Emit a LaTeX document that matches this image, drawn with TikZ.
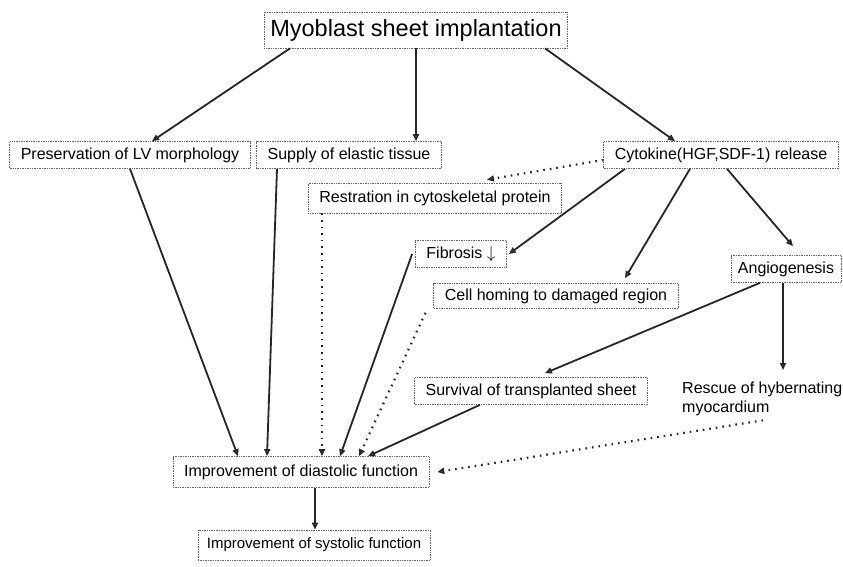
\documentclass[tikz,border=0pt]{standalone}
\usepackage{fontspec}
\setmainfont{Liberation Sans}
\usetikzlibrary{arrows.meta}

\begin{document}
\begin{tikzpicture}[x=1pt, y=-1pt,
    >={Triangle[open, length=7pt, width=6pt]},
    box/.style={draw=gray!80!black, densely dotted, line width=0.7pt, inner xsep=11pt,
      minimum height=27pt, font=\fontsize{16}{19}\selectfont},
    flow/.style={->, line width=1.8pt, black!85},
    hint/.style={->, line width=2.2pt, black!85, dash pattern=on 1.6pt off 5pt}]
  \useasboundingbox (0,0) rectangle (843,566);

  % Boxes
  \node[box, inner xsep=6pt, minimum height=36pt,
    font=\fontsize{23.5}{26}\selectfont] (top) at (416,30)
    {Myoblast sheet implantation};
  \node[box] (prs) at (130,155) {Preservation of LV morphology};
  \node[box] (sup) at (349,155) {Supply of elastic tissue};
  \node[box] (cyt) at (721,155) {Cytokine(HGF,SDF-1) release};
  \node[box, minimum height=30pt] (rst) at (435,198)
    {Restration in cytoskeletal protein};
  \node[box] (fib) at (461,254) {Fibrosis $\downarrow$};
  \node[box, minimum height=25pt] (cel) at (556,296)
    {Cell homing to damaged region};
  \node[box, inner xsep=7pt] (ang) at (786,269) {Angiogenesis};
  \node[box] (sur) at (531,391) {Survival of transplanted sheet};
  \node[anchor=north west, inner sep=0pt, align=left,
    font=\fontsize{16}{19}\selectfont] (res) at (682,382)
    {Rescue of hybernating\\myocardium};
  \node[box, minimum height=31pt] (dia) at (301,472)
    {Improvement of diastolic function};
  \node[box, minimum height=30pt, inner xsep=9pt,
    font=\fontsize{15}{18}\selectfont] (sys) at (314,545)
    {Improvement of systolic function};

  % Arrows from the top
  \draw[flow] ([xshift=-126pt]top.south) -- ([xshift=22pt]prs.north);
  \draw[flow] (top.south) -- ([xshift=67pt]sup.north);
  \draw[flow] ([xshift=129pt]top.south) -- ([xshift=-46pt]cyt.north);

  % Cytokine effects
  \draw[hint] ([yshift=-5pt]cyt.west) -- ([xshift=52pt,yshift=3pt]rst.north);
  \draw[flow] ([xshift=-96pt]cyt.south) -- ([xshift=2pt]fib.east);
  \draw[flow] ([xshift=-31pt]cyt.south) -- ([xshift=69pt,yshift=5pt]cel.north);
  \draw[flow] ([xshift=6pt]cyt.south) -- ([xshift=7pt,yshift=9pt]ang.north);
  \draw[flow] ([xshift=-26pt]ang.south) -- ([xshift=14pt,yshift=4pt]sur.north);
  \draw[flow] ([xshift=-3pt]ang.south) -- ([xshift=101pt,yshift=12pt]res.north west);

  % Into diastolic function
  \draw[flow] (prs.south) -- ([xshift=-63pt]dia.north);
  \draw[flow] ([xshift=-72pt]sup.south) -- ([xshift=-34pt]dia.north);
  \draw[hint] ([xshift=-113pt]rst.south) -- ([xshift=21pt]dia.north);
  \draw[flow] ([xshift=-3pt]fib.west) -- ([xshift=39pt]dia.north);
  \draw[hint] ([xshift=-8pt,yshift=-4pt]cel.south west) -- ([xshift=58pt]dia.north);
  \draw[flow] ([xshift=-51pt]sur.south) -- ([xshift=67pt]dia.north);
  \draw[hint] ([xshift=81pt,yshift=-4pt]res.south west) -- ([xshift=8pt]dia.east);

  % Systolic
  \draw[flow] ([xshift=14pt]dia.south) -- ([xshift=1pt]sys.north);
\end{tikzpicture}
\end{document}
